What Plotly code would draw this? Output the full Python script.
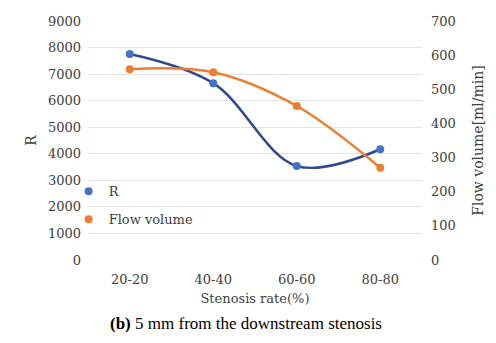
import plotly.graph_objects as go

categories = ["20-20", "40-40", "60-60", "80-80"]
r_values = [7760, 6660, 3540, 4170]
flow_values = [559, 550, 451, 270]

R_LINE = "#2F4A8C"
R_MARK = "#4472C4"
F_COLOR = "#ED7D31"
FONT = "DejaVu Serif"

fig = go.Figure()

# smoothed lines (no legend entries)
fig.add_trace(go.Scatter(x=categories, y=r_values, mode="lines",
                         line=dict(color=R_LINE, width=2.5, shape="spline", smoothing=1.0),
                         showlegend=False, hoverinfo="skip"))
fig.add_trace(go.Scatter(x=categories, y=flow_values, mode="lines", yaxis="y2",
                         line=dict(color=F_COLOR, width=2.5, shape="spline", smoothing=1.0),
                         showlegend=False, hoverinfo="skip"))
# markers, shown in the legend
fig.add_trace(go.Scatter(x=categories, y=r_values, mode="markers", name="R",
                         legendgroup="r", marker=dict(color=R_MARK, size=8)))
fig.add_trace(go.Scatter(x=categories, y=flow_values, mode="markers", name="Flow volume",
                         legendgroup="f", yaxis="y2", marker=dict(color=F_COLOR, size=8)))

# white patch behind the legend, covering the gridline there
fig.add_shape(type="rect", xref="paper", yref="paper", x0=0, x1=0.31, y0=0.14, y1=0.32,
              fillcolor="white", line=dict(width=0), layer="between")

fig.update_layout(
    width=496, height=343,
    margin=dict(l=88, r=66, t=21, b=83),
    paper_bgcolor="white", plot_bgcolor="white",
    font=dict(family=FONT, size=13, color="#404040"),
    xaxis=dict(type="category", range=[-0.5, 3.5], showgrid=False, zeroline=False,
               showline=False, ticks="", tickfont=dict(size=13, color="#404040"),
               ticklabelstandoff=10,
               title=dict(text="Stenosis rate(%)", font=dict(size=13, color="#404040"),
                          standoff=7)),
    yaxis=dict(range=[0, 9000], dtick=1000, showgrid=True, gridcolor="#E3E3E3",
               gridwidth=1, zeroline=False, showline=False, ticks="",
               tickfont=dict(size=13, color="#404040"), ticklabelstandoff=6,
               title=dict(text="R", font=dict(size=14, color="#404040"), standoff=8)),
    yaxis2=dict(range=[0, 700], dtick=100, overlaying="y", side="right",
                showgrid=False, zeroline=False, showline=False, ticks="",
                tickfont=dict(size=13, color="#404040"), ticklabelstandoff=8,
                title=dict(text="Flow volume[ml/min]", font=dict(size=14, color="#404040"),
                           standoff=18)),
    legend=dict(x=-0.058, y=0.35, xanchor="left", yanchor="top",
                bgcolor="rgba(0,0,0,0)", font=dict(size=13, color="#404040"),
                itemwidth=30, tracegroupgap=8),
    annotations=[dict(text="<b>(b)</b> 5 mm from the downstream stenosis",
                      xref="paper", yref="paper", x=0.474, y=-0.265,
                      xanchor="center", yanchor="middle", showarrow=False,
                      font=dict(family="Liberation Serif", size=17, color="black"))],
)

fig.write_html("out.html")
